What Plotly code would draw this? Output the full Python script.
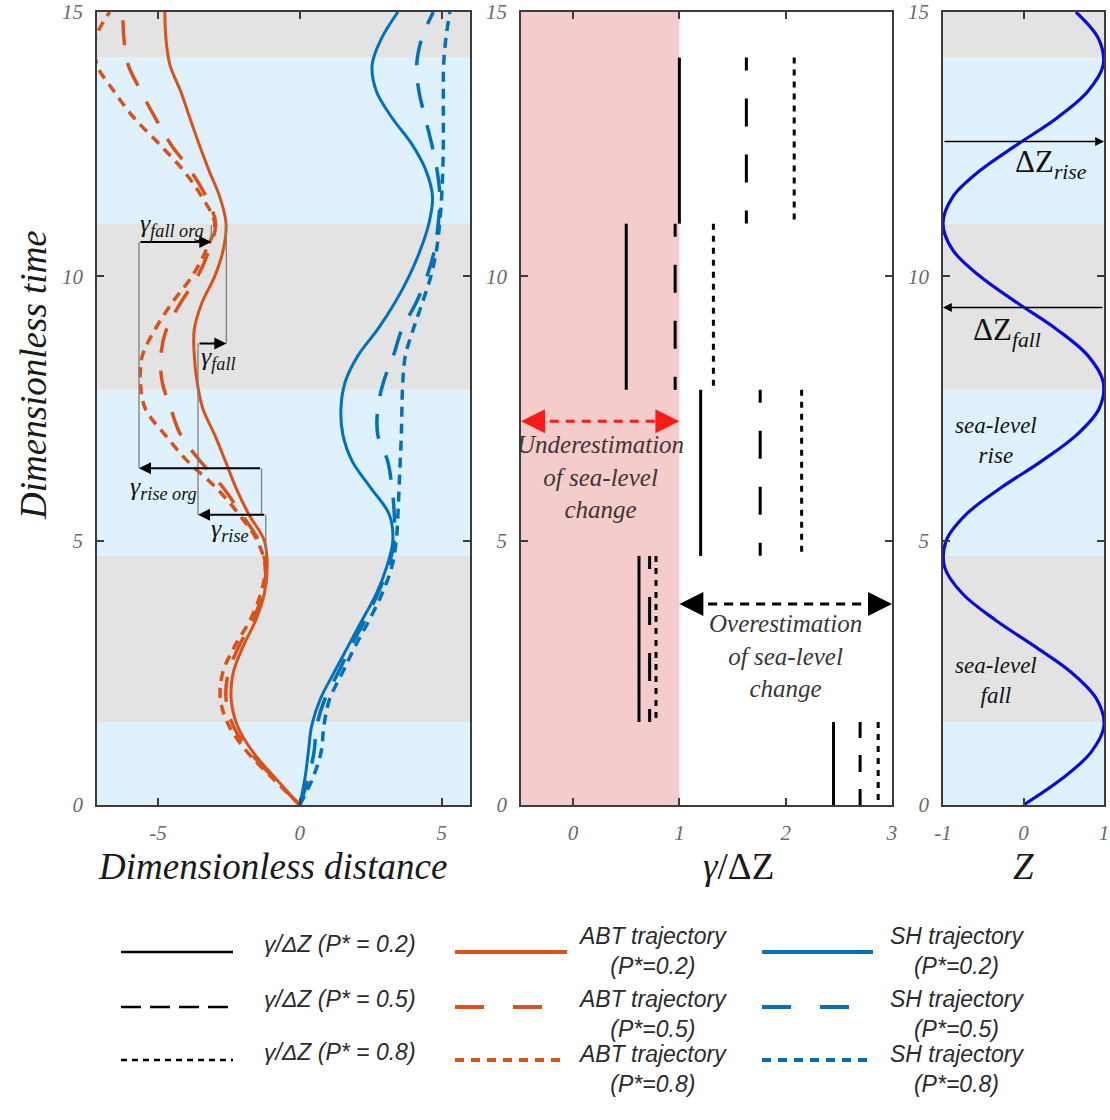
import plotly.graph_objects as go

# ---------------- data ----------------
t_grid = [0, 0.5, 1, 1.5, 2, 2.5, 3, 3.5, 4, 4.5, 5, 5.5, 6, 6.5, 7, 7.5,
          8, 8.5, 9, 9.5, 10, 10.5, 11, 11.5, 12, 12.5, 13, 13.5, 14, 14.5, 15]

abt_p02 = [0, -0.85, -1.65, -2.2, -2.42, -2.35, -2.0, -1.55, -1.25, -1.15, -1.25, -1.8,
           -2.25, -2.62, -3.0, -3.42, -3.62, -3.72, -3.72, -3.45, -3.0, -2.7, -2.6, -2.82,
           -3.2, -3.55, -3.88, -4.2, -4.58, -4.72, -4.76]
abt_p05 = [0, -0.9, -1.75, -2.35, -2.6, -2.52, -2.15, -1.65, -1.32, -1.2, -1.45, -2.05,
           -2.7, -3.5, -4.2, -4.55, -4.85, -4.9, -4.7, -4.2, -3.6, -3.2, -2.97, -3.3,
           -3.85, -4.55, -5.1, -5.6, -6.05, -6.2, -6.24]
abt_p08 = [0, -0.95, -1.85, -2.5, -2.8, -2.72, -2.3, -1.75, -1.38, -1.22, -1.5, -2.15,
           -2.95, -3.95, -4.75, -5.45, -5.62, -5.55, -5.1, -4.5, -3.8, -3.3, -3.0, -3.45,
           -4.1, -4.95, -5.85, -6.55, -7.15, -7.2, -6.7]

sh_p02 = [0, 0.18, 0.3, 0.42, 0.72, 1.2, 1.7, 2.2, 2.7, 3.06, 3.28, 3.15, 2.5, 1.85,
          1.52, 1.45, 1.6, 2.05, 2.75, 3.35, 3.85, 4.25, 4.55, 4.68, 4.45, 3.95, 3.25,
          2.7, 2.55, 2.88, 3.46]
sh_p05 = [0, 0.3, 0.5, 0.6, 0.88, 1.35, 1.8, 2.3, 2.75, 3.12, 3.33, 3.33, 3.25, 3.1,
          2.75, 2.75, 2.95, 3.3, 3.6, 4.1, 4.48, 4.75, 4.88, 4.94, 4.84, 4.65, 4.42,
          4.2, 4.12, 4.3, 4.71]
sh_p08 = [0, 0.45, 0.75, 0.85, 1.05, 1.5, 1.95, 2.45, 2.9, 3.24, 3.4, 3.46, 3.5, 3.54,
          3.58, 3.6, 3.63, 3.72, 4.0, 4.32, 4.62, 4.82, 4.93, 5.0, 5.04, 5.06, 5.06,
          5.06, 5.07, 5.15, 5.29]

z_level = [0, 0.48, 0.84, 1.0, 0.91, 0.6, 0.14, -0.35, -0.76, -0.98, -0.96, -0.71,
           -0.28, 0.22, 0.66, 0.94, 0.99, 0.8, 0.41, -0.08, -0.54, -0.88, -1.0, -0.88,
           -0.54, -0.07, 0.42, 0.8, 0.99, 0.93, 0.65]

# gamma / delta Z per phase
phase_start = [0.0, 1.571, 4.712, 7.854, 10.996]
phase_end = [1.571, 4.712, 7.854, 10.996, 14.137]
ratio_p02 = [2.45, 0.62, 1.20, 0.50, 1.00]
ratio_p05 = [2.70, 0.72, 1.76, 0.96, 1.63]
ratio_p08 = [2.87, 0.78, 2.15, 1.32, 2.08]

# sea-level phases (background bands)
band_edges = [0, 1.571, 4.712, 7.854, 10.996, 14.137, 15]
band_phase = ["rise", "fall", "rise", "fall", "rise", "fall"]

# gamma construction guides in panel 1
guide_x = [-3.12, -5.67, -1.35, -2.59, -3.59, -1.20]
guide_t0 = [10.97, 10.65, 6.37, 11.0, 8.73, 5.49]
guide_t1 = [10.65, 6.37, 5.49, 8.73, 5.49, 4.77]
arrow_from_x = [-5.67, -1.35, -3.59, -1.20]
arrow_to_x = [-3.12, -5.67, -2.59, -3.59]
arrow_t = [10.65, 6.37, 8.73, 5.49]
gamma_labels = ["γ<sub>fall org</sub>", "γ<sub>rise org</sub>", "γ<sub>fall</sub>", "γ<sub>rise</sub>"]
gamma_label_x = [-4.5, -4.8, -2.85, -2.45]
gamma_label_t = [10.98, 6.0, 8.45, 5.2]

legend_gamma = ["γ/ΔZ (P* = 0.2)", "γ/ΔZ (P* = 0.5)", "γ/ΔZ (P* = 0.8)"]
legend_abt = ["ABT trajectory<br>(P*=0.2)", "ABT trajectory<br>(P*=0.5)", "ABT trajectory<br>(P*=0.8)"]
legend_sh = ["SH trajectory<br>(P*=0.2)", "SH trajectory<br>(P*=0.5)", "SH trajectory<br>(P*=0.8)"]

# ---------------- styling ----------------
ORANGE = "#D95319"
BLUE = "#0072BD"
ZBLUE = "#0b0bd9"
GRAY_BAND = "#E3E3E3"
BLUE_BAND = "#DFF1FC"
PINK = "#F4CCCC"
AX = "#3c3c3c"
SERIF = "Liberation Serif"
NARROW = "Liberation Sans Narrow, Liberation Sans"
W, H = 1110, 1120

fig = go.Figure()

# panel 1 curves
curve_specs = [
    (abt_p02, ORANGE, "solid", 3), (abt_p05, ORANGE, "25px,18px", 3.5), (abt_p08, ORANGE, "10px,7px", 3.5),
    (sh_p02, BLUE, "solid", 3), (sh_p05, BLUE, "25px,18px", 3.5), (sh_p08, BLUE, "10px,7px", 3.5),
]
for xs, col, dash, wd in curve_specs:
    fig.add_trace(go.Scatter(x=xs, y=t_grid, mode="lines", xaxis="x", yaxis="y",
                             line=dict(color=col, dash=dash, width=wd, shape="spline", smoothing=1.0),
                             showlegend=False, hoverinfo="skip"))

# guides
gx, gy = [], []
for x, a, b in zip(guide_x, guide_t0, guide_t1):
    gx += [x, x, None]
    gy += [a, b, None]
fig.add_trace(go.Scatter(x=gx, y=gy, mode="lines", xaxis="x", yaxis="y",
                         line=dict(color="#7d7d7d", width=1.3), showlegend=False, hoverinfo="skip"))

# panel 2 segments
for i in range(len(phase_start)):
    long_seg = (phase_end[i] - phase_start[i]) > 2
    dash_p05 = "13px,28px,28px,28px,28px,28px,13px,60px" if long_seg else "16px,17px,17px,17px,16px,60px"
    for vals, dash in ((ratio_p02, "solid"), (ratio_p05, dash_p05), (ratio_p08, "6px,6px")):
        fig.add_trace(go.Scatter(x=[vals[i], vals[i]], y=[phase_end[i], phase_start[i]], mode="lines",
                                 xaxis="x2", yaxis="y2",
                                 line=dict(color="black", dash=dash, width=3),
                                 showlegend=False, hoverinfo="skip"))

# double arrows (dashed shafts) in panel 2
under_x = [-0.49, 1.0]
under_t = 7.26
over_x = [1.0, 3.0]
over_t = 3.8
fig.add_trace(go.Scatter(x=[under_x[0] + 0.12, under_x[1] - 0.12], y=[under_t, under_t], mode="lines",
                         xaxis="x2", yaxis="y2", line=dict(color="#ff1a1a", dash="9px,7px", width=3),
                         showlegend=False, hoverinfo="skip"))
fig.add_trace(go.Scatter(x=[over_x[0] + 0.12, over_x[1] - 0.12], y=[over_t, over_t], mode="lines",
                         xaxis="x2", yaxis="y2", line=dict(color="black", dash="9px,7px", width=3),
                         showlegend=False, hoverinfo="skip"))

# panel 3 sea-level curve
fig.add_trace(go.Scatter(x=z_level, y=t_grid, mode="lines", xaxis="x3", yaxis="y3",
                         line=dict(color=ZBLUE, width=3.2, shape="spline", smoothing=1.0),
                         showlegend=False, hoverinfo="skip"))

shapes = []
# bands
for i, ph in enumerate(band_phase):
    col = BLUE_BAND if ph == "rise" else GRAY_BAND
    for xr, yr in (("x domain", "y"), ("x3 domain", "y3")):
        shapes.append(dict(type="rect", xref=xr, yref=yr, x0=0, x1=1, y0=band_edges[i], y1=band_edges[i + 1],
                           fillcolor=col, line=dict(width=0), layer="below"))
shapes.append(dict(type="rect", xref="x2", yref="y2 domain", x0=-0.49, x1=1.0, y0=0, y1=1,
                   fillcolor=PINK, line=dict(width=0), layer="below"))

annotations = []
# gamma arrows
for fx, tx, tt in zip(arrow_from_x, arrow_to_x, arrow_t):
    annotations.append(dict(x=tx, y=tt, ax=fx, ay=tt, xref="x", yref="y", axref="x", ayref="y",
                            text="", showarrow=True, arrowhead=2, arrowsize=1.2, arrowwidth=2,
                            arrowcolor="black", standoff=0))
for lbl, lx, lt in zip(gamma_labels, gamma_label_x, gamma_label_t):
    annotations.append(dict(x=lx, y=lt, xref="x", yref="y", text=lbl, showarrow=False,
                            xanchor="center", yanchor="middle",
                            font=dict(family=SERIF, size=26, color="#111", style="italic")))

# panel 2 arrowheads
for (tipx, tailx, tt, col) in ((under_x[0], under_x[0] + 0.15, under_t, "#ff1a1a"),
                               (under_x[1], under_x[1] - 0.15, under_t, "#ff1a1a"),
                               (over_x[0], over_x[0] + 0.15, over_t, "black"),
                               (over_x[1], over_x[1] - 0.15, over_t, "black")):
    annotations.append(dict(x=tipx, y=tt, ax=tailx, ay=tt, xref="x2", yref="y2", axref="x2", ayref="y2",
                            text="", showarrow=True, arrowhead=2, arrowsize=1.6, arrowwidth=3,
                            arrowcolor=col, standoff=0))
annotations.append(dict(x=0.26, y=6.2, xref="x2", yref="y2", showarrow=False,
                        xanchor="center", yanchor="middle",
                        text="Underestimation<br>of sea-level<br>change",
                        font=dict(family=SERIF, size=25, color="#3d3535", style="italic")))
annotations.append(dict(x=2.0, y=2.82, xref="x2", yref="y2", showarrow=False,
                        xanchor="center", yanchor="middle",
                        text="Overestimation<br>of sea-level<br>change",
                        font=dict(family=SERIF, size=25, color="#3d3535", style="italic")))

# panel 3 arrows and labels
dz_rise_t = 12.55
dz_fall_t = 9.41
annotations.append(dict(x=1, y=dz_rise_t, ax=-1, ay=dz_rise_t, xref="x3", yref="y3", axref="x3", ayref="y3",
                        text="", showarrow=True, arrowhead=2, arrowsize=1.1, arrowwidth=1.6,
                        arrowcolor="black", standoff=0))
annotations.append(dict(x=-1, y=dz_fall_t, ax=1, ay=dz_fall_t, xref="x3", yref="y3", axref="x3", ayref="y3",
                        text="", showarrow=True, arrowhead=2, arrowsize=1.1, arrowwidth=1.6,
                        arrowcolor="black", standoff=0))
annotations.append(dict(x=0.34, y=12.12, xref="x3", yref="y3", showarrow=False,
                        xanchor="center", yanchor="middle",
                        text="ΔZ<sub><i>rise</i></sub>", font=dict(family=SERIF, size=31, color="#111")))
annotations.append(dict(x=-0.2, y=8.95, xref="x3", yref="y3", showarrow=False,
                        xanchor="center", yanchor="middle",
                        text="ΔZ<sub><i>fall</i></sub>", font=dict(family=SERIF, size=31, color="#111")))
annotations.append(dict(x=-0.34, y=6.9, xref="x3", yref="y3", showarrow=False,
                        xanchor="center", yanchor="middle",
                        text="sea-level<br>rise", font=dict(family=SERIF, size=23, color="#111", style="italic")))
annotations.append(dict(x=-0.34, y=2.35, xref="x3", yref="y3", showarrow=False,
                        xanchor="center", yanchor="middle",
                        text="sea-level<br>fall", font=dict(family=SERIF, size=23, color="#111", style="italic")))

# axis titles
title_font = dict(family=SERIF, size=37, color="#1a1a1a", style="italic")
TITLE_Y = 866
annotations.append(dict(x=272 / W, y=1 - TITLE_Y / H, xref="paper", yref="paper", showarrow=False,
                        xanchor="center", yanchor="middle",
                        text="Dimensionless distance", font=title_font))
annotations.append(dict(x=33 / W, y=1 - 375 / H, xref="paper", yref="paper", showarrow=False,
                        xanchor="center", yanchor="middle",
                        text="Dimensionless time", textangle=-90, font=title_font))
annotations.append(dict(x=738 / W, y=1 - TITLE_Y / H, xref="paper", yref="paper", showarrow=False,
                        xanchor="center", yanchor="middle",
                        text="<i>γ</i>/ΔZ", font=dict(family=SERIF, size=37, color="#1a1a1a")))
annotations.append(dict(x=1023 / W, y=1 - TITLE_Y / H, xref="paper", yref="paper", showarrow=False,
                        xanchor="center", yanchor="middle",
                        text="Z", font=title_font))

# legend (drawn manually)
row_y = [952, 1007, 1060]
text_y = [951, 1014, 1069]
dash_black = ["solid", "20px,9px", "6px,5px"]
dash_col = ["solid", "29px,29px", "9px,7px"]
leg_font = dict(family=NARROW, size=23, color="#2b2b2b", style="italic")
for i in range(3):
    yy = 1 - row_y[i] / H
    shapes.append(dict(type="line", xref="paper", yref="paper", x0=121 / W, x1=233 / W, y0=yy, y1=yy,
                       line=dict(color="black", width=2.5, dash=dash_black[i])))
    shapes.append(dict(type="line", xref="paper", yref="paper", x0=455 / W, x1=567 / W, y0=yy, y1=yy,
                       line=dict(color=ORANGE, width=4, dash=dash_col[i])))
    shapes.append(dict(type="line", xref="paper", yref="paper", x0=762 / W, x1=873 / W, y0=yy, y1=yy,
                       line=dict(color=BLUE, width=4, dash=dash_col[i])))
    annotations.append(dict(x=262 / W, y=1 - (row_y[i] - 8) / H, xref="paper", yref="paper",
                            xanchor="left", yanchor="middle",
                            showarrow=False, text=legend_gamma[i], font=leg_font))
    annotations.append(dict(x=652 / W, y=1 - text_y[i] / H, xref="paper", yref="paper",
                            xanchor="center", yanchor="middle",
                            showarrow=False, text=legend_abt[i], font=leg_font))
    annotations.append(dict(x=957 / W, y=1 - text_y[i] / H, xref="paper", yref="paper",
                            xanchor="center", yanchor="middle",
                            showarrow=False, text=legend_sh[i], font=leg_font))

tick_font = dict(family=SERIF, size=21, color="#6a6a6a", style="italic")
axis_common = dict(showline=True, linecolor=AX, linewidth=1.6, mirror="allticks", ticks="inside",
                   ticklen=7, tickwidth=1.6, tickcolor=AX, showgrid=False, zeroline=False,
                   tickfont=tick_font, fixedrange=True, automargin=False, ticklabelstandoff=8,
                   ticklabeloverflow="allow")
y_dom = [1 - 805 / H, 1 - 12 / H]

fig.update_layout(
    template="none",
    width=W, height=H, margin=dict(l=0, r=0, t=0, b=0, pad=0, autoexpand=False),
    paper_bgcolor="white", plot_bgcolor="rgba(0,0,0,0)",
    showlegend=False,
    xaxis=dict(domain=[97 / W, 470 / W], range=[-7.15, 6.0], tickvals=[-5, 0, 5],
               ticktext=["-5", "0", "5"], anchor="y", **axis_common),
    yaxis=dict(domain=y_dom, range=[0, 15], tickvals=[0, 5, 10, 15], anchor="x", **axis_common),
    xaxis2=dict(domain=[521 / W, 892 / W], range=[-0.49, 3.0], tickvals=[0, 1, 2, 3],
                anchor="y2", **axis_common),
    yaxis2=dict(domain=y_dom, range=[0, 15], tickvals=[0, 5, 10, 15], anchor="x2", **axis_common),
    xaxis3=dict(domain=[943 / W, 1104 / W], range=[-1, 1], tickvals=[-1, 0, 1],
                ticktext=["-1", "0", "1"], anchor="y3", **axis_common),
    yaxis3=dict(domain=y_dom, range=[0, 15], tickvals=[0, 5, 10, 15], anchor="x3", **axis_common),
    shapes=shapes, annotations=annotations,
)

fig.write_html("out.html", post_script="document.body.style.margin='0';document.body.style.padding='0';")
